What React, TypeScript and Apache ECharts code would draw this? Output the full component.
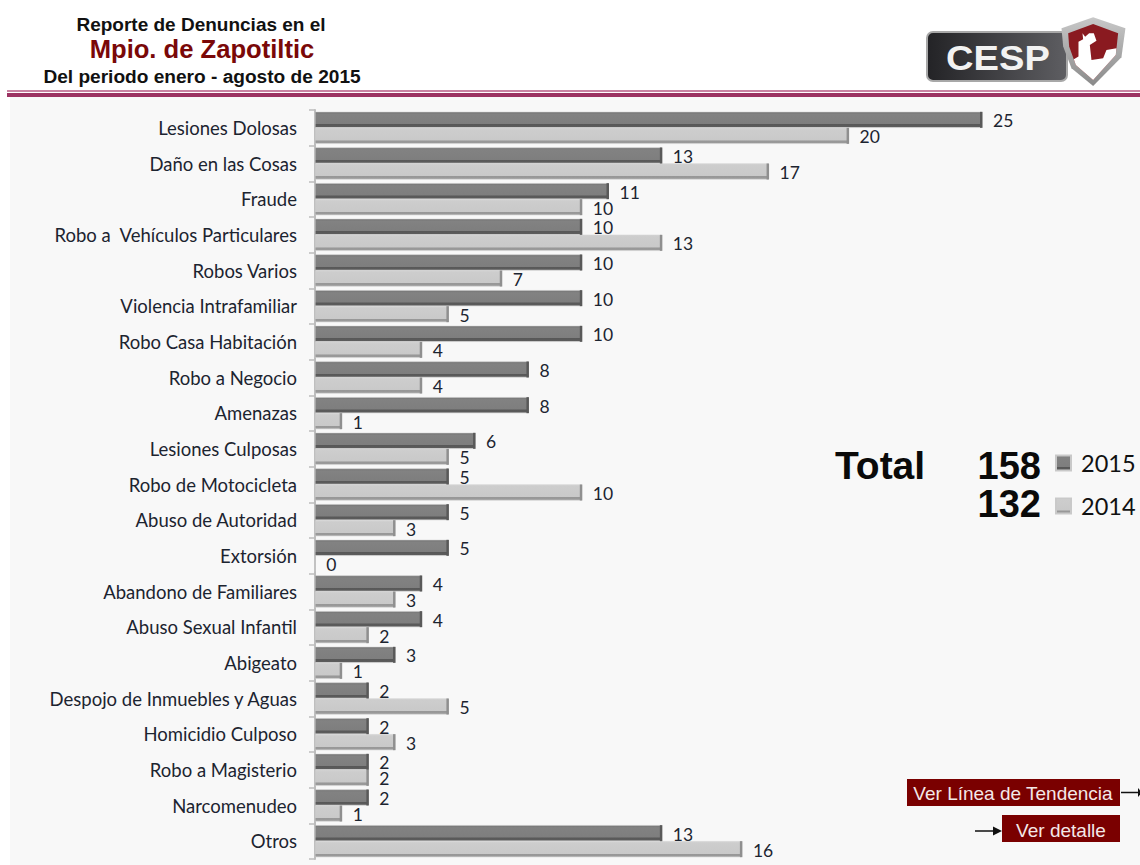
import React, { useEffect, useRef } from "react";
import * as echarts from "echarts";

const categories = [
  "Lesiones Dolosas", "Daño en las Cosas", "Fraude", "Robo a  Vehículos Particulares", "Robos Varios",
  "Violencia Intrafamiliar", "Robo Casa Habitación", "Robo a Negocio", "Amenazas", "Lesiones Culposas",
  "Robo de Motocicleta", "Abuso de Autoridad", "Extorsión", "Abandono de Familiares", "Abuso Sexual Infantil",
  "Abigeato", "Despojo de Inmuebles y Aguas", "Homicidio Culposo", "Robo a Magisterio", "Narcomenudeo", "Otros",
];
const values2015 = [25, 13, 11, 10, 10, 10, 10, 8, 8, 6, 5, 5, 5, 4, 4, 3, 2, 2, 2, 2, 13];
const values2014 = [20, 17, 10, 13, 7, 5, 4, 4, 1, 5, 10, 3, 0, 3, 2, 1, 5, 3, 2, 1, 16];
const total2015 = "158";
const total2014 = "132";

const LABEL_FONT = "Lato, Carlito, sans-serif";
const HEAD_FONT = "'Liberation Sans', Arial, sans-serif";

function vGrad(stops: [number, string][]) {
  return new echarts.graphic.LinearGradient(0, 0, 0, 1, stops.map(([offset, color]) => ({ offset, color })));
}

function edgeSeries(name: string, values: number[], side: number, color: string) {
  return {
    type: "custom",
    name,
    silent: true,
    z: 4,
    clip: false,
    encode: { x: 0, y: 1 },
    data: values.map((v, i) => [v, i]),
    renderItem: (_p: any, api: any) => {
      const v = api.value(0);
      if (v === 0) return { type: "group", children: [] };
      const pt = api.coord([v, api.value(1)]);
      return {
        type: "rect",
        shape: { x: pt[0] - 2, y: side < 0 ? pt[1] - 16 : pt[1], width: 2.5, height: 16 },
        style: { fill: color },
      };
    },
  };
}

export default function App() {
  const ref = useRef<HTMLDivElement>(null);
  useEffect(() => {
    document.body.style.margin = "0";
    const chart = echarts.init(ref.current!, undefined, { renderer: "svg" });
    const labelOpt = {
      show: true,
      position: "right" as const,
      distance: 11,
      offset: [0, 1],
      fontFamily: LABEL_FONT,
      fontSize: 17.5,
      color: "#1c2430",
    };
    chart.setOption({
      animation: false,
      backgroundColor: "#ffffff",
      grid: { left: 315, top: 110, width: 667, height: 749, containLabel: false },
      xAxis: { type: "value", min: 0, max: 25, show: false },
      yAxis: {
        type: "category",
        inverse: true,
        data: categories,
        axisLine: { show: true, lineStyle: { color: "#bdbdbd", width: 2 } },
        axisTick: { show: true, length: 6, lineStyle: { color: "#bdbdbd", width: 1.5 } },
        axisLabel: { margin: 18, fontFamily: LABEL_FONT, fontSize: 18.5, color: "#1c2430", padding: [1, 0, 0, 0] },
        splitLine: { show: false },
      },
      legend: {
        left: 1050,
        top: 446,
        orient: "vertical",
        icon: "rect",
        itemWidth: 15,
        itemHeight: 15,
        itemGap: 19,
        data: ["2015", "2014"],
        textStyle: { fontFamily: LABEL_FONT, fontSize: 23.5, color: "#111111", padding: [0, 0, 0, 5] },
      },
      series: [
        {
          name: "2015",
          type: "bar",
          barWidth: 16,
          barGap: "0%",
          data: values2015,
          z: 3,
          label: labelOpt,
          itemStyle: {
            color: vGrad([[0, "#757575"], [0.15, "#828282"], [0.76, "#7e7e7e"], [0.8, "#585858"], [0.94, "#5c5c5c"], [1, "#a8a8a8"]]),
            borderColor: "#c9c9c9",
            borderWidth: 0.5,
          },
        },
        {
          name: "2014",
          type: "bar",
          barWidth: 16,
          data: values2014,
          z: 3,
          label: labelOpt,
          itemStyle: {
            color: vGrad([[0, "#d6d6d6"], [0.1, "#cdcdcd"], [0.78, "#c9c9c9"], [0.82, "#979797"], [0.94, "#9a9a9a"], [1, "#bcbcbc"]]),
            borderColor: "#c9c9c9",
            borderWidth: 0.5,
          },
        },
        edgeSeries("edge2015", values2015, -1, "#595959"),
        edgeSeries("edge2014", values2014, 1, "#8f8f8f"),
      ],
      graphic: [
        { type: "rect", z: -10, silent: true, shape: { x: 10, y: 97, width: 1130, height: 768 }, style: { fill: "#f8f8f8" } },
        { type: "rect", z: -9, silent: true, shape: { x: 7, y: 90, width: 1133, height: 2 }, style: { fill: "#c983a2" } },
        { type: "rect", z: -9, silent: true, shape: { x: 7, y: 93, width: 1133, height: 4 }, style: { fill: "#9c3362" } },

        { type: "text", x: 201, y: 24, style: { text: "Reporte de Denuncias en el", font: `bold 19px ${HEAD_FONT}`, fill: "#111111", textAlign: "center", textVerticalAlign: "middle" } },
        { type: "text", x: 202, y: 49, style: { text: "Mpio. de Zapotiltic", font: `bold 25.6px ${HEAD_FONT}`, fill: "#7a0808", textAlign: "center", textVerticalAlign: "middle" } },
        { type: "text", x: 202, y: 76, style: { text: "Del periodo enero - agosto de 2015", font: `bold 19.1px ${HEAD_FONT}`, fill: "#111111", textAlign: "center", textVerticalAlign: "middle" } },

        // logo
        {
          type: "rect",
          shape: { x: 927, y: 32, width: 140, height: 49, r: 6 },
          style: {
            fill: new echarts.graphic.LinearGradient(0, 0, 1, 0, [
              { offset: 0, color: "#232326" },
              { offset: 1, color: "#5e5e62" },
            ]),
            stroke: "#a8a8a8",
            lineWidth: 2,
          },
        },
        { type: "text", x: 998, y: 58, scaleX: 1.09, style: { text: "CESP", font: `bold 35px ${HEAD_FONT}`, fill: "#f2f2f2", textAlign: "center", textVerticalAlign: "middle" } },
        {
          type: "group",
          x: 900,
          y: 0,
          scaleX: 1 / 3,
          scaleY: 1 / 3,
          children: [
            {
              type: "polygon",
              shape: { points: [[485, 85], [580, 52], [677, 85], [665, 172], [580, 258], [515, 205], [490, 140]] },
              style: { fill: vGrad([[0, "#c8c8c8"], [1, "#8a8a8a"]]) },
            },
            {
              type: "polygon",
              shape: { points: [[505, 100], [580, 72], [655, 100], [648, 165], [580, 240], [528, 195], [508, 140]] },
              style: { fill: "#8a1a20" },
            },
            {
              type: "polygon",
              shape: {
                points: [[548, 100], [556, 110], [568, 100], [582, 100], [590, 122], [570, 135], [575, 180], [610, 175], [620, 150], [650, 145], [648, 165], [580, 240], [528, 195], [522, 178], [536, 170], [536, 125], [550, 118]],
              },
              style: { fill: "#ffffff" },
            },
          ],
        },

        // totals
        { type: "text", x: 880, y: 465, style: { text: "Total", font: `bold 39px ${HEAD_FONT}`, fill: "#0a0a0a", textAlign: "center", textVerticalAlign: "middle" } },
        { type: "text", x: 1041, y: 466, style: { text: total2015, font: `bold 38px ${HEAD_FONT}`, fill: "#0a0a0a", textAlign: "right", textVerticalAlign: "middle" } },
        { type: "text", x: 1041, y: 504, style: { text: total2014, font: `bold 38px ${HEAD_FONT}`, fill: "#0a0a0a", textAlign: "right", textVerticalAlign: "middle" } },

        // buttons
        { type: "rect", shape: { x: 907, y: 779, width: 213, height: 27 }, style: { fill: "#7a0000" } },
        { type: "text", x: 1013, y: 793, style: { text: "Ver Línea de Tendencia", font: `19px ${HEAD_FONT}`, fill: "#f4e8e8", textAlign: "center", textVerticalAlign: "middle" } },
        { type: "rect", shape: { x: 1002, y: 815, width: 118, height: 27 }, style: { fill: "#7a0000" } },
        { type: "text", x: 1061, y: 830, style: { text: "Ver detalle", font: `19px ${HEAD_FONT}`, fill: "#f4e8e8", textAlign: "center", textVerticalAlign: "middle" } },
        { type: "line", shape: { x1: 1121, y1: 792.5, x2: 1140, y2: 792.5 }, style: { stroke: "#111111", lineWidth: 1.5 } },
        { type: "polygon", shape: { points: [[1138, 788], [1138, 797], [1142, 792.5]] }, style: { fill: "#111111" } },
        { type: "line", shape: { x1: 975, y1: 831, x2: 995, y2: 831 }, style: { stroke: "#111111", lineWidth: 1.5 } },
        { type: "polygon", shape: { points: [[993, 826.5], [993, 835.5], [1002, 831]] }, style: { fill: "#111111" } },
      ],
    });
    return () => chart.dispose();
  }, []);
  return <div ref={ref} style={{ width: 1140, height: 865 }} />;
}
